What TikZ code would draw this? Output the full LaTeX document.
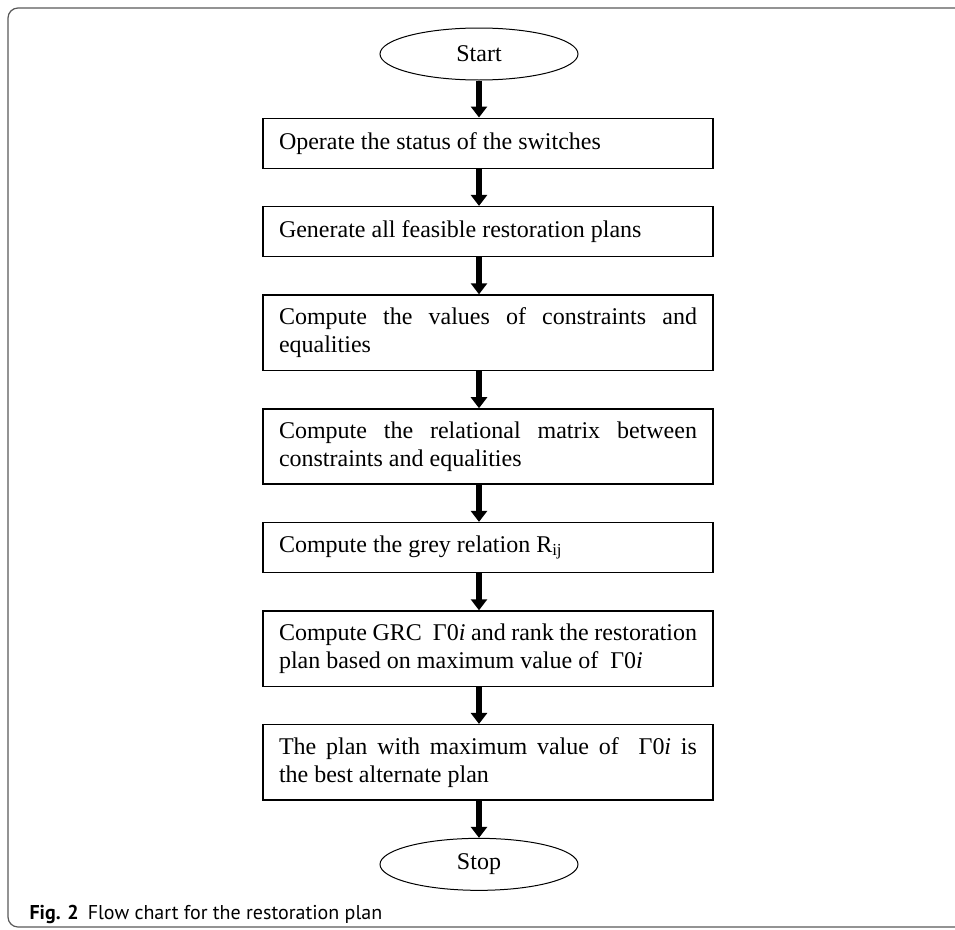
\documentclass[tikz,border=0pt]{standalone}
\usepackage{fontspec}
\setmainfont{Liberation Serif}
\newfontfamily\capfont{PT Sans}
\usepackage{tikz}
\usetikzlibrary{arrows.meta}
\usetikzlibrary{positioning}
\usetikzlibrary{shapes.geometric}
\tikzstyle{terminal}=[draw,ellipse,line width=1pt,minimum width=198pt,minimum height=52pt,inner sep=0pt]

\begin{document}
\begin{tikzpicture}[
  font=\fontsize{24}{27.5}\selectfont,
  process/.style={draw,line width=1.4pt,text width=418pt,inner xsep=16pt,inner ysep=13pt,align=justify,minimum height=50pt},
  flow/.style={line width=5.5pt,-{Triangle[width=16pt,length=11pt]}},
  node distance=37pt,
]
\useasboundingbox (0,0) rectangle (955pt,-929pt);
% frame of the figure
\draw[black!65,line width=1.2pt,rounded corners=10pt] (955pt,-8pt) -- (8pt,-8pt) -- (8pt,-927pt) -- (955pt,-927pt);

\node[terminal] (start) at (479pt,-54pt) {Start};
\node[process,below=of start,xshift=9pt] (operate) {Operate the status of the switches};
\node[process,below=of operate] (generate) {Generate all feasible restoration plans};
\node[process,below=of generate] (values) {Compute the values of constraints and\linebreak equalities};
\node[process,below=of values] (matrix) {Compute the relational matrix between\linebreak constraints and equalities};
\node[process,below=of matrix] (grey) {Compute the grey relation R\textsubscript{ij}};
\node[process,below=of grey] (grc) {Compute GRC\ \ Γ0\textit{i} and rank the restoration\linebreak plan based on maximum value of\ \ Γ0\textit{i}};
\node[process,below=of grc] (best) {The plan with maximum value of\ \ Γ0\textit{i} is\linebreak the best alternate plan};
\node[terminal,below=of best,xshift=-9pt] (stop) {Stop};

\draw[flow] (start) -- (start |- operate.north);
\foreach \a/\b in {operate/generate,generate/values,values/matrix,matrix/grey,grey/grc,grc/best}
  \draw[flow] (\a.south -| start) -- (\b.north -| start);
\draw[flow] (best.south -| stop) -- (stop);

\node[anchor=base west,font=\capfont\fontsize{20}{24}\selectfont] (caption) at (26pt,-919pt)
  {\textbf{Fig. 2}\hspace{9pt}Flow chart for the restoration plan};
\end{tikzpicture}
\end{document}
